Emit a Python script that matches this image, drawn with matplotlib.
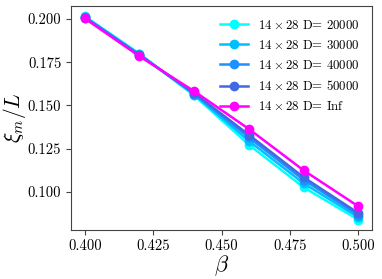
import matplotlib
matplotlib.use("Agg")
import matplotlib.pyplot as plt

plt.rcParams["font.family"] = "serif"
plt.rcParams["font.serif"] = ["cmr10", "DejaVu Serif"]
plt.rcParams["mathtext.fontset"] = "cm"
plt.rcParams["axes.formatter.use_mathtext"] = True

# Data
beta = [0.40, 0.42, 0.44, 0.46, 0.48, 0.50]
labels = ["20000", "30000", "40000", "50000", "Inf"]
colors = ["cyan", "deepskyblue", "dodgerblue", "royalblue", "magenta"]
xi_20000 = [0.2015, 0.1799, 0.1558, 0.1273, 0.1027, 0.0840]
xi_30000 = [0.2012, 0.1795, 0.1563, 0.1295, 0.1050, 0.0855]
xi_40000 = [0.2009, 0.1792, 0.1568, 0.1315, 0.1070, 0.0868]
xi_50000 = [0.2007, 0.1790, 0.1572, 0.1330, 0.1085, 0.0878]
xi_inf = [0.2003, 0.1784, 0.1582, 0.1364, 0.1125, 0.0917]
series = [xi_20000, xi_30000, xi_40000, xi_50000, xi_inf]

fig = plt.figure(figsize=(3.82, 2.79), dpi=100)
ax = fig.add_axes([0.186, 0.176, 0.788, 0.802])

for ys, lab, c in zip(series, labels, colors):
    ax.plot(beta, ys, "-o", color=c, lw=1.8, ms=6,
            label=r"$14\times28$ D= " + lab)

ax.set_xticks([0.400, 0.425, 0.450, 0.475, 0.500])
ax.set_xticklabels(["0.400", "0.425", "0.450", "0.475", "0.500"])
ax.set_yticks([0.100, 0.125, 0.150, 0.175, 0.200])
ax.set_yticklabels(["0.100", "0.125", "0.150", "0.175", "0.200"])
ax.tick_params(labelsize=10.5, color="#444444")
for s in ax.spines.values():
    s.set_color("#444444")

ax.set_xlabel(r"$\beta$", fontsize=16, labelpad=0)
ax.set_ylabel(r"$\xi_m/L$", fontsize=15.5, labelpad=0)

ax.legend(loc="upper right", frameon=False, fontsize=9.2,
          handlelength=2.2, labelspacing=0.55, borderaxespad=0.6)

fig.savefig("out.png", dpi=100)
